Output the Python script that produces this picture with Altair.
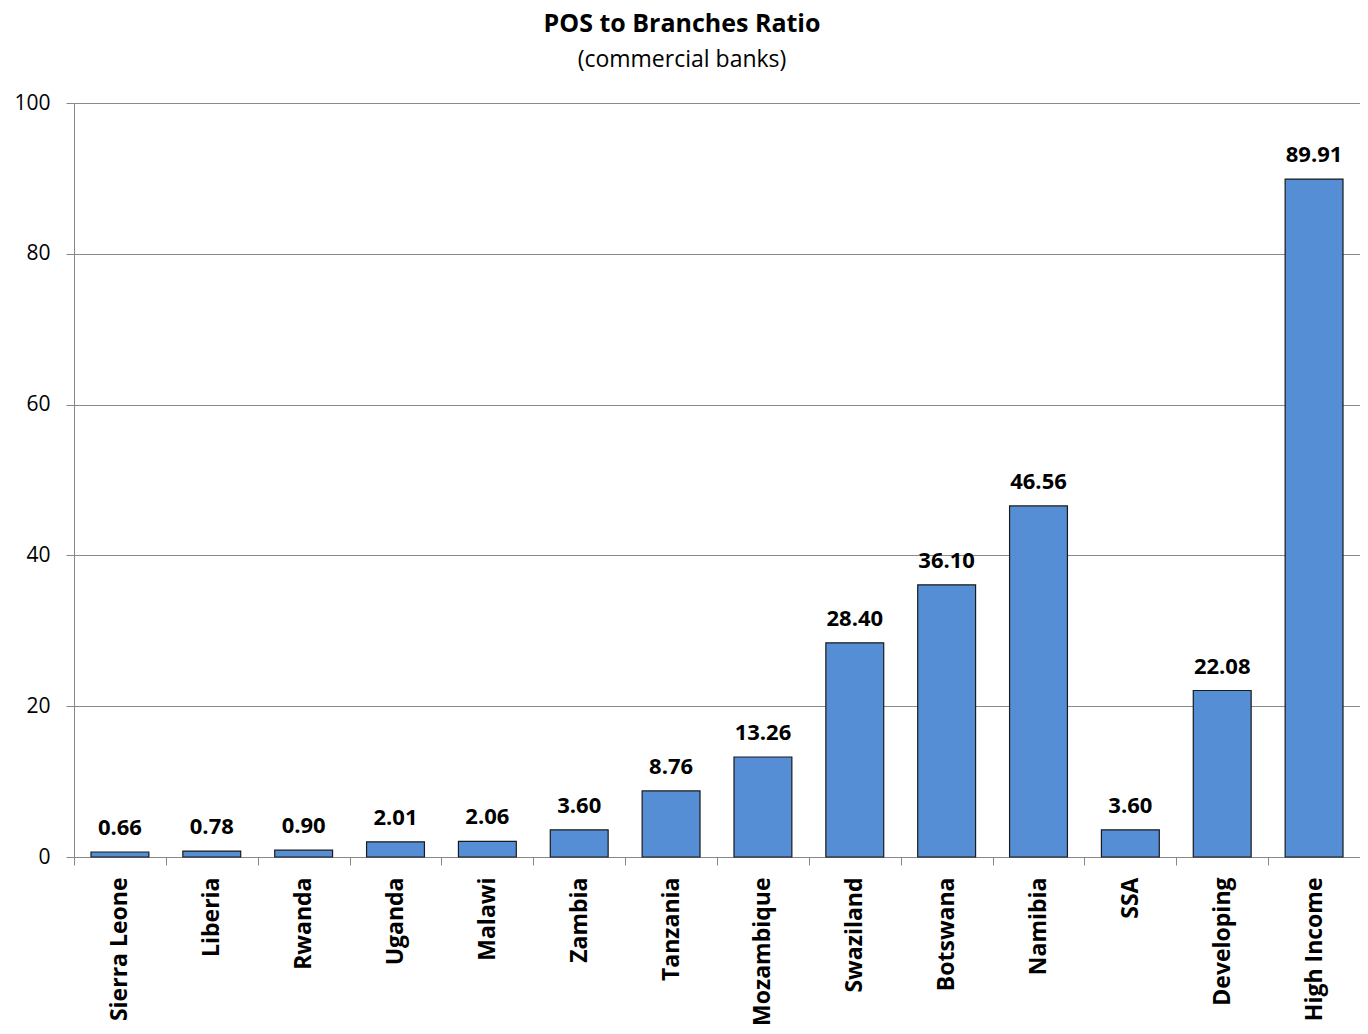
import altair as alt
import pandas as pd

categories = ["Sierra Leone", "Liberia", "Rwanda", "Uganda", "Malawi", "Zambia",
              "Tanzania", "Mozambique", "Swaziland", "Botswana", "Namibia", "SSA",
              "Developing", "High Income"]
values = [0.66, 0.78, 0.90, 2.01, 2.06, 3.60, 8.76, 13.26, 28.40, 36.10, 46.56,
          3.60, 22.08, 89.91]

df = pd.DataFrame({"country": categories, "ratio": values})

FONT = "Open Sans"
W, H = 1286, 754
BAND = W / len(categories)

x = alt.X("country:N", sort=categories,
          scale=alt.Scale(paddingInner=0.37, paddingOuter=0.185),
          axis=alt.Axis(title=None, labelAngle=-90, labelFont=FONT, labelFontSize=23,
                        labelFontWeight="bold", labelColor="#000000",
                        domainColor="#888888", tickColor="#888888", tickSize=8,
                        tickOffset=-BAND / 2, labelOffset=BAND / 2, labelPadding=12,
                        grid=False))
y = alt.Y("ratio:Q",
          scale=alt.Scale(domain=[0, 100], nice=False),
          axis=alt.Axis(title=None, values=[0, 20, 40, 60, 80, 100], labelFont=FONT,
                        labelFontSize=21, labelColor="#000000", labelFontWeight="normal",
                        domainColor="#888888", tickColor="#888888", tickSize=8,
                        labelPadding=16, grid=True, gridColor="#8a8a8a", gridWidth=1))

base = alt.Chart(df)

bars = base.mark_bar(color="#558ED5", stroke="#1a1a1a", strokeWidth=1.2).encode(x=x, y=y)

labels = base.mark_text(baseline="alphabetic", dy=-17, font=FONT, fontSize=22,
                        fontWeight="bold", color="#000000").encode(
    x=alt.X("country:N", sort=categories),
    y=alt.Y("ratio:Q"),
    text=alt.Text("ratio:Q", format=".2f"))

chart = alt.layer(bars, labels).properties(
    width=W, height=H,
    title=alt.TitleParams(
        text="POS to Branches  Ratio",
        subtitle="(commercial banks)",
        font=FONT, fontSize=25, fontWeight="bold", color="#000000",
        subtitleFont=FONT, subtitleFontSize=23, subtitleColor="#000000",
        subtitlePadding=12,
        anchor="middle", dx=-35, offset=20),
    autosize=alt.AutoSizeParams(type="none"),
    padding={"left": 66, "top": 95, "right": 0, "bottom": 169},
).configure_view(stroke=None).configure(background="#ffffff")

chart.save("out.html", embed_options={"renderer": "svg", "actions": False})
